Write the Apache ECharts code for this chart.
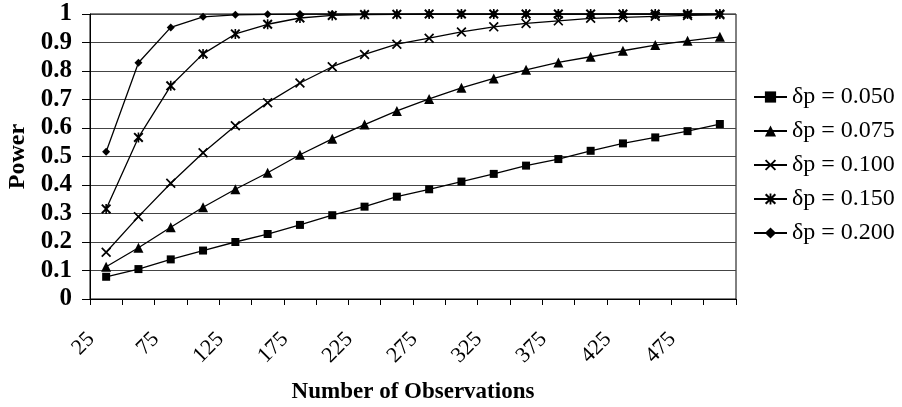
<!DOCTYPE html>
<html>
<head>
<meta charset="utf-8">
<script src="https://cdn.jsdelivr.net/npm/echarts@6/dist/echarts.min.js"></script>
<style>
html,body{margin:0;padding:0;background:#fff;}
#chart{width:902px;height:407px;}
</style>
</head>
<body>
<div id="chart"></div>
<script>
var categories = ['25','50','75','100','125','150','175','200','225','250','275','300','325','350','375','400','425','450','475','500'];
var yTickLabels = ['0','0.1','0.2','0.3','0.4','0.5','0.6','0.7','0.8','0.9','1'];
var seriesNames = ['\u03b4p = 0.050','\u03b4p = 0.075','\u03b4p = 0.100','\u03b4p = 0.150','\u03b4p = 0.200'];
var dp050 = [0.078,0.105,0.139,0.170,0.200,0.228,0.260,0.294,0.324,0.359,0.385,0.412,0.439,0.468,0.491,0.520,0.546,0.567,0.589,0.614];
var dp075 = [0.113,0.180,0.252,0.322,0.385,0.443,0.506,0.562,0.612,0.660,0.702,0.741,0.774,0.804,0.830,0.850,0.871,0.891,0.906,0.920];
var dp100 = [0.164,0.289,0.406,0.513,0.608,0.689,0.758,0.815,0.858,0.894,0.915,0.937,0.955,0.967,0.976,0.985,0.988,0.992,0.995,0.997];
var dp150 = [0.316,0.567,0.748,0.860,0.930,0.964,0.986,0.995,0.998,0.999,1,1,1,1,1,1,1,1,1,1];
var dp200 = [0.517,0.829,0.953,0.990,0.997,0.999,1,1,1,1,1,1,1,1,1,1,1,1,1,1];

var FONT = 'Liberation Serif';
var crossPath = 'path://M0,1.2 L1.2,0 L10,8.8 L8.8,10 Z M8.8,0 L10,1.2 L1.2,10 L0,8.8 Z';
var starPath = 'path://M0,1.4 L1.4,0 L10,8.6 L8.6,10 Z M8.6,0 L10,1.4 L1.4,10 L0,8.6 Z M4.2,0 L5.8,0 L5.8,10 L4.2,10 Z';
var symbols = ['rect','triangle',crossPath,starPath,'diamond'];
var sizes = [8,10,10,10,8];
var allData = [dp050,dp075,dp100,dp150,dp200];

var series = allData.map(function(d,i){
  return {
    name: seriesNames[i],
    type: 'line',
    data: d,
    symbol: symbols[i],
    symbolSize: sizes[i],
    showAllSymbol: true,
    lineStyle: {color:'#000', width:1.3},
    itemStyle: {color:'#000'},
    emphasis: {disabled:true},
    z: 3 + i
  };
});

var SHIFT = 15;
var chart = echarts.init(document.getElementById('chart'), null, {renderer:'canvas'});
chart.setOption({
  animation: false,
  backgroundColor: '#fff',
  grid: [
    {left:90, right:166, top:14, bottom:108, show:true, borderColor:'#000', borderWidth:1,
     backgroundColor:'transparent', containLabel:false, outerBoundsMode:'none'},
    {left:90-SHIFT, right:166+SHIFT, top:14, bottom:108, show:false, containLabel:false, outerBoundsMode:'none'}
  ],
  legend: {
    orient:'vertical', left:748, top:80,
    itemWidth:33, itemHeight:14, itemGap:10,
    textStyle:{fontFamily:FONT, fontSize:24, color:'#000', lineHeight:24},
    data: seriesNames
  },
  xAxis: [{
    type:'category', data:categories, boundaryGap:true, gridIndex:0,
    name:'Number of Observations', nameLocation:'middle', nameGap:82, nameMoveOverlap:false,
    nameTextStyle:{fontFamily:FONT, fontWeight:'bold', fontSize:23, color:'#000'},
    axisLine:{show:true, lineStyle:{color:'#000', width:1}},
    axisTick:{show:true, interval:0, length:6, lineStyle:{color:'#000'}},
    axisLabel:{show:false},
    splitLine:{show:false}
  },{
    type:'category', data:categories, boundaryGap:true, gridIndex:1,
    axisLine:{show:false}, axisTick:{show:false}, splitLine:{show:false},
    axisLabel:{interval:1, rotate:45, margin:37, fontFamily:FONT, fontSize:22, color:'#000',
      showMinLabel:true, hideOverlap:false}
  }],
  yAxis: [{
    type:'value', min:0, max:1, interval:0.1, gridIndex:0,
    name:'Power', nameLocation:'middle', nameGap:60, nameMoveOverlap:false,
    nameTextStyle:{fontFamily:FONT, fontWeight:'bold', fontSize:24, color:'#000'},
    axisLine:{show:true, lineStyle:{color:'#000', width:1}},
    axisTick:{show:true, length:8, lineStyle:{color:'#000'}},
    axisLabel:{margin:18, fontFamily:FONT, fontWeight:'bold', fontSize:25, color:'#000',
      formatter:function(v){return yTickLabels[Math.round(v*10)];}},
    splitLine:{show:true, lineStyle:{color:'#444', width:1}}
  },{
    type:'value', min:0, max:1, gridIndex:1, show:false
  }],
  series: series
});
</script>
</body>
</html>
